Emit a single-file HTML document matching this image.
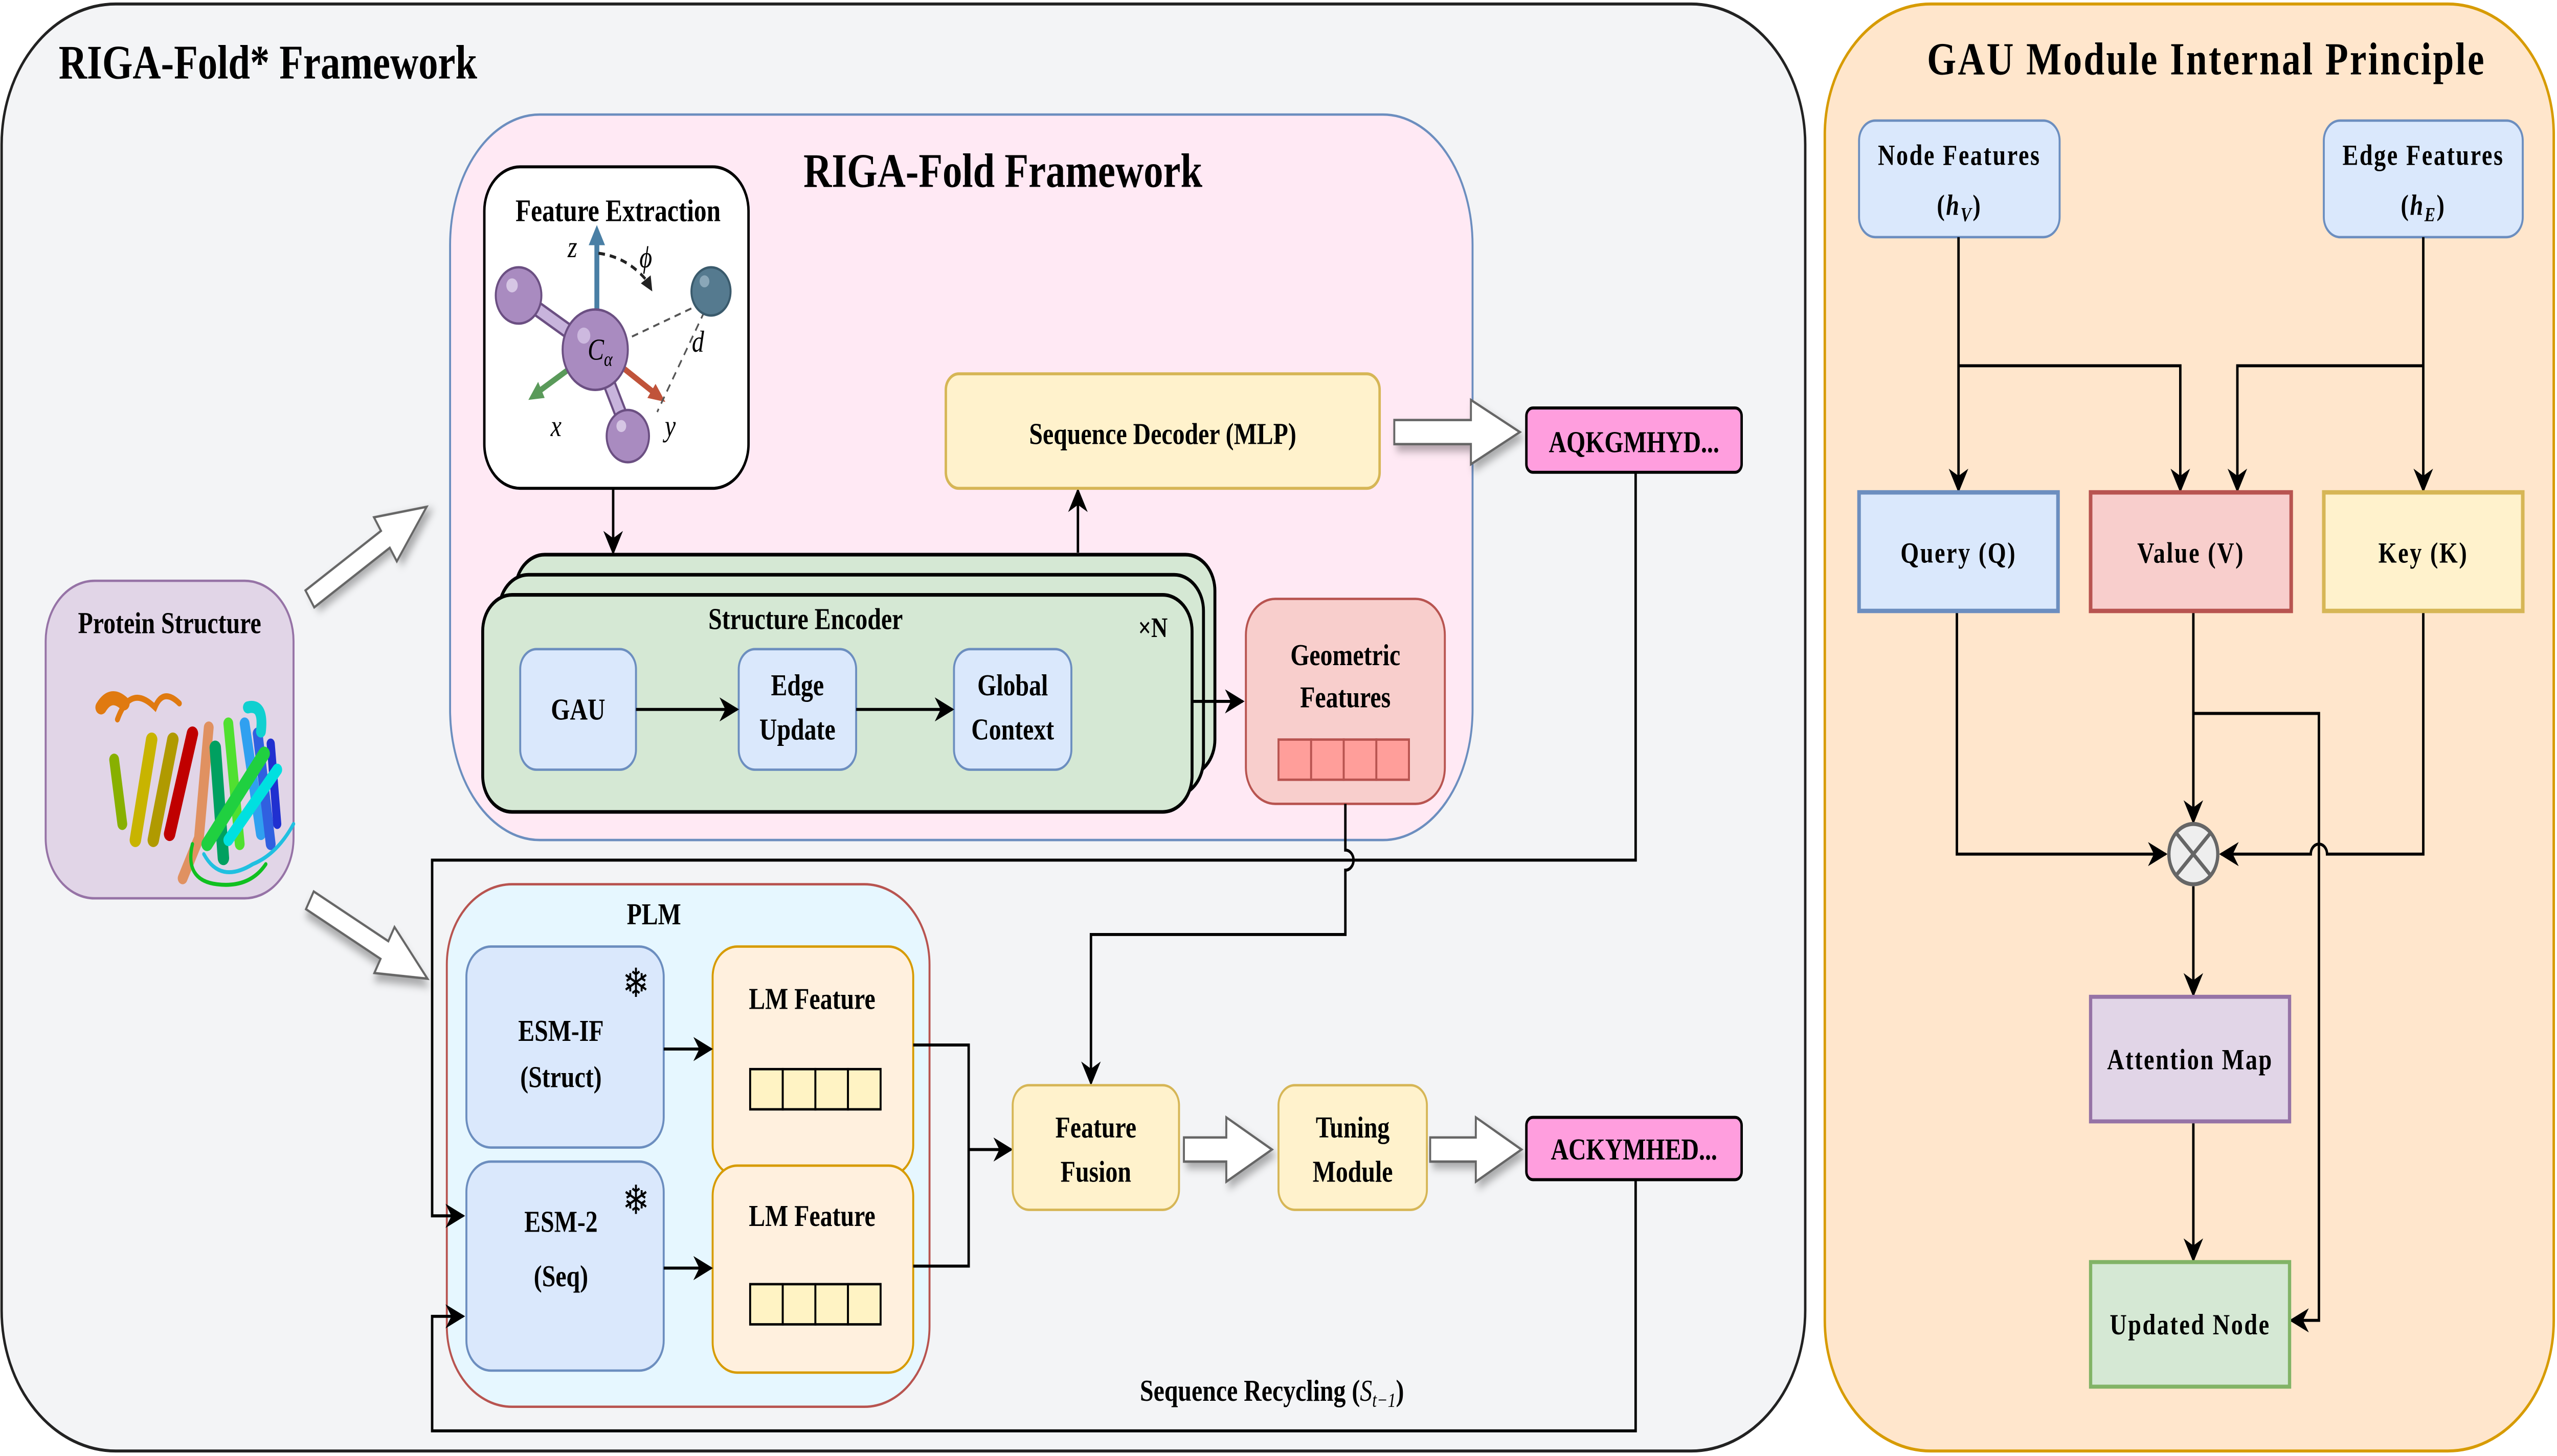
<!DOCTYPE html>
<html><head><meta charset="utf-8"><style>html,body{margin:0;padding:0;background:#fff;overflow:hidden;width:100%;height:100%}svg{display:block;width:100vw;height:100vh}</style></head><body>
<svg xmlns="http://www.w3.org/2000/svg" viewBox="0 0 1568 724.5" preserveAspectRatio="none" font-family="'Liberation Serif', serif" font-weight="bold">
<defs>
<marker id="ah2" viewBox="0 0 10 10" refX="9" refY="5" markerWidth="12" markerHeight="12" orient="auto" markerUnits="userSpaceOnUse"><path d="M0,0 L10,5 L0,10 L3,5 z" fill="#000"/></marker>
<filter id="sh" x="-20%" y="-20%" width="140%" height="160%"><feDropShadow dx="2" dy="3" stdDeviation="2" flood-opacity="0.3"/></filter>
</defs>
<rect width="1568" height="724.5" fill="#fff"/>
<rect x="1" y="2" width="1106" height="720" rx="70" ry="70" fill="#f3f4f6" stroke="#222" stroke-width="1.5"/>
<text x="36" y="39" font-size="24">RIGA-Fold* Framework</text>
<rect x="1119" y="2" width="447" height="720" rx="65" ry="65" fill="#ffe6cc" stroke="#d79b00" stroke-width="1.5"/>
<text x="1353" y="37" font-size="23" text-anchor="middle" letter-spacing="1">GAU Module Internal Principle</text>

<rect x="276" y="57" width="627" height="361" rx="55" ry="65" fill="#ffe9f4" stroke="#6c8ebf" stroke-width="1.2"/>
<text x="615" y="93" font-size="24" text-anchor="middle">RIGA-Fold Framework</text>

<rect x="297" y="83" width="162" height="160" rx="22" fill="#fff" stroke="#000" stroke-width="1.5"/>
<text x="379" y="110" font-size="15.5" text-anchor="middle">Feature Extraction</text>
<line x1="318" y1="147" x2="366" y2="175" stroke="#6b4f82" stroke-width="8"/>
<line x1="318" y1="147" x2="366" y2="175" stroke="#c8b4dc" stroke-width="5.5"/>
<line x1="366" y1="175" x2="385" y2="215" stroke="#6b4f82" stroke-width="8"/>
<line x1="366" y1="175" x2="385" y2="215" stroke="#c8b4dc" stroke-width="5.5"/>
<line x1="366" y1="160" x2="366" y2="120" stroke="#4a7fa5" stroke-width="3"/>
<path d="M366,112 L361,122 L371,122 z" fill="#4a7fa5"/>
<line x1="350" y1="183" x2="330" y2="195" stroke="#5a9a5a" stroke-width="3"/>
<path d="M324,199 L330,190 L334,198 z" fill="#5a9a5a"/>
<line x1="382" y1="183" x2="402" y2="196" stroke="#c0533a" stroke-width="3"/>
<path d="M408,200 L397,198 L402,191 z" fill="#c0533a"/>
<path d="M367,126 Q385,128 397,140" fill="none" stroke="#222" stroke-width="1.5" stroke-dasharray="4,3"/>
<path d="M400,145 L393,141 L399,137 z" fill="#222"/>
<line x1="381" y1="170" x2="433" y2="150" stroke="#555" stroke-width="1" stroke-dasharray="4,3"/>
<line x1="432" y1="155" x2="403" y2="205" stroke="#555" stroke-width="1" stroke-dasharray="4,3"/>
<circle cx="318" cy="147" r="14" fill="#a98bc0" stroke="#6b4f82" stroke-width="1.2"/>
<circle cx="314" cy="142" r="3.5" fill="#d6c6e4"/>
<circle cx="365" cy="174" r="20" fill="#a98bc0" stroke="#6b4f82" stroke-width="1.2"/>
<circle cx="358" cy="167" r="4" fill="#cdb9df"/>
<circle cx="385" cy="217" r="13" fill="#a98bc0" stroke="#6b4f82" stroke-width="1.2"/>
<circle cx="381" cy="212" r="3" fill="#d6c6e4"/>
<circle cx="436" cy="145" r="12" fill="#557a8f" stroke="#3a5a6c" stroke-width="1.2"/>
<circle cx="432" cy="140" r="3" fill="#8aa7b8"/>
<text x="368" y="179" font-size="15" font-style="italic" font-weight="normal" text-anchor="middle">C<tspan font-size="10" dy="3">α</tspan></text>
<text x="351" y="128" font-size="15" font-style="italic" font-weight="normal" text-anchor="middle">z</text>
<text x="396" y="133" font-size="15" font-style="italic" font-weight="normal" text-anchor="middle">ϕ</text>
<text x="428" y="175" font-size="15" font-style="italic" font-weight="normal" text-anchor="middle">d</text>
<text x="341" y="217" font-size="15" font-style="italic" font-weight="normal" text-anchor="middle">x</text>
<text x="411" y="217" font-size="15" font-style="italic" font-weight="normal" text-anchor="middle">y</text>

<line x1="376" y1="243" x2="376" y2="275" stroke="#000" stroke-width="1.5" marker-end="url(#ah2)"/>

<rect x="316" y="276" width="429" height="110" rx="18" fill="#d5e8d4" stroke="#000" stroke-width="1.8"/>
<rect x="306" y="286" width="432" height="110" rx="18" fill="#d5e8d4" stroke="#000" stroke-width="1.8"/>
<rect x="296" y="296" width="435" height="108" rx="18" fill="#d5e8d4" stroke="#000" stroke-width="1.8"/>
<text x="494" y="313" font-size="15" text-anchor="middle">Structure Encoder</text>
<text x="707" y="317" font-size="14" text-anchor="middle">×N</text>
<rect x="319" y="323" width="71" height="60" rx="10" fill="#dae8fc" stroke="#6c8ebf" stroke-width="1.2"/>
<text x="354.5" y="358" font-size="15" text-anchor="middle">GAU</text>
<rect x="453" y="323" width="72" height="60" rx="10" fill="#dae8fc" stroke="#6c8ebf" stroke-width="1.2"/>
<text x="489" y="346" font-size="15" text-anchor="middle">Edge</text>
<text x="489" y="368" font-size="15" text-anchor="middle">Update</text>
<rect x="585" y="323" width="72" height="60" rx="10" fill="#dae8fc" stroke="#6c8ebf" stroke-width="1.2"/>
<text x="621" y="346" font-size="15" text-anchor="middle">Global</text>
<text x="621" y="368" font-size="15" text-anchor="middle">Context</text>
<line x1="390" y1="353" x2="452" y2="353" stroke="#000" stroke-width="1.5" marker-end="url(#ah2)"/>
<line x1="525" y1="353" x2="584" y2="353" stroke="#000" stroke-width="1.5" marker-end="url(#ah2)"/>
<line x1="731" y1="349" x2="762" y2="349" stroke="#000" stroke-width="1.5" marker-end="url(#ah2)"/>

<rect x="764" y="298" width="122" height="102" rx="18" fill="#f8cecc" stroke="#b85450" stroke-width="1.2"/>
<text x="825" y="331" font-size="15" text-anchor="middle">Geometric</text>
<text x="825" y="352" font-size="15" text-anchor="middle">Features</text>
<g fill="#ff9e9a" stroke="#b85450" stroke-width="1.2">
<rect x="784" y="368" width="20" height="20"/><rect x="804" y="368" width="20" height="20"/><rect x="824" y="368" width="20" height="20"/><rect x="844" y="368" width="20" height="20"/></g>

<line x1="661" y1="275" x2="661" y2="244" stroke="#000" stroke-width="1.5" marker-end="url(#ah2)"/>
<rect x="580" y="186" width="266" height="57" rx="8" fill="#fff2cc" stroke="#d6b656" stroke-width="1.5"/>
<text x="713" y="221" font-size="15" text-anchor="middle">Sequence Decoder (MLP)</text>
<polygon points="855,209 902,209 902,199 932,215 902,231 902,221 855,221" fill="#fff" stroke="#666" stroke-width="1.2" filter="url(#sh)"/>
<rect x="936" y="203" width="132" height="32" rx="4" fill="#ff9ede" stroke="#000" stroke-width="1.5"/>
<text x="1002" y="225" font-size="15" text-anchor="middle">AQKGMHYD...</text>

<rect x="28" y="289" width="152" height="158" rx="30" fill="#e1d5e7" stroke="#9673a6" stroke-width="1.2"/>
<text x="104" y="315" font-size="15" text-anchor="middle">Protein Structure</text>
<g fill="none" stroke-linecap="round">
<path d="M72,358 Q80,340 95,352 Q100,342 110,350" stroke="#e07a10" stroke-width="3"/>
<path d="M62,352 q6,-8 14,-2" stroke="#e07a10" stroke-width="7"/>
<path d="M70,378 l5,32" stroke="#88b000" stroke-width="6"/>
<path d="M93,368 l-10,50" stroke="#c8b400" stroke-width="7"/>
<path d="M106,368 l-12,50" stroke="#b09a00" stroke-width="7"/>
<path d="M118,365 l-14,50" stroke="#c00000" stroke-width="7"/>
<path d="M128,362 l-6,55 l-10,20" stroke="#e08040" stroke-width="6" opacity="0.8"/>
<path d="M132,372 l5,55" stroke="#00a060" stroke-width="7"/>
<path d="M140,360 l7,60" stroke="#50e030" stroke-width="6"/>
<path d="M150,360 l10,55" stroke="#30a0f0" stroke-width="6"/>
<path d="M158,365 l8,55" stroke="#3060e0" stroke-width="6"/>
<path d="M166,370 l4,40" stroke="#2030d0" stroke-width="5"/>
<path d="M127,420 l35,-45" stroke="#20d040" stroke-width="7"/>
<path d="M140,418 l30,-35" stroke="#00e0e0" stroke-width="6"/>
<path d="M125,425 q10,15 30,5 q15,-5 25,-20" stroke="#20c0e0" stroke-width="2"/>
<path d="M118,420 q-5,18 15,20 q20,2 30,-10" stroke="#10c020" stroke-width="2"/>
<path d="M152,352 q10,-2 8,12" stroke="#10d0d0" stroke-width="6"/>
</g>

<polygon points="0,-5 55,-5 55,-13 85,0 55,13 55,5 0,5" fill="#fff" stroke="#666" stroke-width="1.2" filter="url(#sh)" transform="translate(190,298) rotate(-32.6)"/>
<polygon points="0,-5 52,-5 52,-13 82,0 52,13 52,5 0,5" fill="#fff" stroke="#666" stroke-width="1.2" filter="url(#sh)" transform="translate(190,448) rotate(28.4)"/>

<rect x="274" y="440" width="296" height="260" rx="40" fill="#e6f7ff" stroke="#b85450" stroke-width="1.2"/>
<text x="401" y="460" font-size="15" text-anchor="middle">PLM</text>
<rect x="286" y="471" width="121" height="100" rx="15" fill="#dae8fc" stroke="#6c8ebf" stroke-width="1.2"/>
<text x="344" y="518" font-size="15" text-anchor="middle">ESM-IF</text>
<text x="344" y="541" font-size="15" text-anchor="middle">(Struct)</text>
<text x="390" y="496" font-size="20" font-weight="normal" text-anchor="middle" font-family="'DejaVu Sans', sans-serif">❄</text>
<rect x="286" y="578" width="121" height="104" rx="15" fill="#dae8fc" stroke="#6c8ebf" stroke-width="1.2"/>
<text x="344" y="613" font-size="15" text-anchor="middle">ESM-2</text>
<text x="344" y="640" font-size="15" text-anchor="middle">(Seq)</text>
<text x="390" y="604" font-size="20" font-weight="normal" text-anchor="middle" font-family="'DejaVu Sans', sans-serif">❄</text>
<rect x="437" y="471" width="123" height="114" rx="15" fill="#fff0de" stroke="#d79b00" stroke-width="1.2"/>
<text x="498" y="502" font-size="15" text-anchor="middle">LM Feature</text>
<g fill="#fff3c4" stroke="#000" stroke-width="1.2"><rect x="460" y="532" width="20" height="20"/><rect x="480" y="532" width="20" height="20"/><rect x="500" y="532" width="20" height="20"/><rect x="520" y="532" width="20" height="20"/></g>
<rect x="437" y="580" width="123" height="103" rx="15" fill="#fff0de" stroke="#d79b00" stroke-width="1.2"/>
<text x="498" y="610" font-size="15" text-anchor="middle">LM Feature</text>
<g fill="#fff3c4" stroke="#000" stroke-width="1.2"><rect x="460" y="639" width="20" height="20"/><rect x="480" y="639" width="20" height="20"/><rect x="500" y="639" width="20" height="20"/><rect x="520" y="639" width="20" height="20"/></g>
<line x1="407" y1="522" x2="436" y2="522" stroke="#000" stroke-width="1.5" marker-end="url(#ah2)"/>
<line x1="407" y1="631" x2="436" y2="631" stroke="#000" stroke-width="1.5" marker-end="url(#ah2)"/>
<polyline points="560,520 594,520 594,630 560,630" fill="none" stroke="#000" stroke-width="1.5"/>
<line x1="594" y1="572" x2="620" y2="572" stroke="#000" stroke-width="1.5" marker-end="url(#ah2)"/>

<polyline points="1003,235 1003,428 265,428 265,605 284,605" fill="none" stroke="#000" stroke-width="1.5" marker-end="url(#ah2)"/>
<polyline points="1003,587 1003,712 265,712 265,655 284,655" fill="none" stroke="#000" stroke-width="1.5" marker-end="url(#ah2)"/>
<path d="M825,400 L825,423 A5,5 0 0 1 825,433 L825,465 L669,465 L669,539" fill="none" stroke="#000" stroke-width="1.5" marker-end="url(#ah2)"/>

<rect x="621" y="540" width="102" height="62" rx="10" fill="#fff2cc" stroke="#d6b656" stroke-width="1.2"/>
<text x="672" y="566" font-size="15" text-anchor="middle">Feature</text>
<text x="672" y="588" font-size="15" text-anchor="middle">Fusion</text>
<polygon points="726,566 752,566 752,556 780,572 752,588 752,578 726,578" fill="#fff" stroke="#666" stroke-width="1.2" filter="url(#sh)"/>
<rect x="784" y="540" width="91" height="62" rx="10" fill="#fff2cc" stroke="#d6b656" stroke-width="1.2"/>
<text x="829.5" y="566" font-size="15" text-anchor="middle">Tuning</text>
<text x="829.5" y="588" font-size="15" text-anchor="middle">Module</text>
<polygon points="877,566 905,566 905,556 933,572 905,588 905,578 877,578" fill="#fff" stroke="#666" stroke-width="1.2" filter="url(#sh)"/>
<rect x="936" y="556" width="132" height="31" rx="4" fill="#ff9ede" stroke="#000" stroke-width="1.5"/>
<text x="1002" y="577" font-size="15" text-anchor="middle">ACKYMHED...</text>
<text x="780" y="697" font-size="15" text-anchor="middle">Sequence Recycling (<tspan font-style="italic" font-weight="normal">S</tspan><tspan font-size="10" dy="3" font-style="italic" font-weight="normal">t−1</tspan><tspan dy="-3">)</tspan></text>

<g font-size="14.5" letter-spacing="0.8">
<rect x="1140" y="60" width="123" height="58" rx="10" fill="#dae8fc" stroke="#6c8ebf" stroke-width="1.2"/>
<text x="1201.5" y="82" text-anchor="middle">Node Features</text>
<text x="1201.5" y="107" text-anchor="middle">(<tspan font-style="italic">h</tspan><tspan font-size="10" dy="3" font-style="italic">V</tspan><tspan dy="-3">)</tspan></text>
<rect x="1425" y="60" width="122" height="58" rx="10" fill="#dae8fc" stroke="#6c8ebf" stroke-width="1.2"/>
<text x="1486" y="82" text-anchor="middle">Edge Features</text>
<text x="1486" y="107" text-anchor="middle">(<tspan font-style="italic">h</tspan><tspan font-size="10" dy="3" font-style="italic">E</tspan><tspan dy="-3">)</tspan></text>

<g fill="none" stroke="#000" stroke-width="1.5">
<line x1="1201" y1="118" x2="1201" y2="244" marker-end="url(#ah2)"/>
<polyline points="1201,182 1337,182 1337,244" marker-end="url(#ah2)"/>
<line x1="1486" y1="118" x2="1486" y2="244" marker-end="url(#ah2)"/>
<polyline points="1486,182 1372,182 1372,244" marker-end="url(#ah2)"/>
<polyline points="1200,304 1200,425 1328,425" marker-end="url(#ah2)"/>
<line x1="1345" y1="304" x2="1345" y2="409" marker-end="url(#ah2)"/>
<polyline points="1345,355 1422,355 1422,657 1405,657" marker-end="url(#ah2)"/>
<path d="M1486,304 L1486,425 L1427,425 A5,5 0 0 0 1417,425 L1362,425" marker-end="url(#ah2)"/>
<line x1="1345" y1="441" x2="1345" y2="495" marker-end="url(#ah2)"/>
<line x1="1345" y1="558" x2="1345" y2="627" marker-end="url(#ah2)"/>
</g>
<rect x="1140" y="245" width="122" height="59" fill="#dae8fc" stroke="#6c8ebf" stroke-width="2.2"/>
<text x="1201" y="280" text-anchor="middle">Query (Q)</text>
<rect x="1282" y="245" width="123" height="59" fill="#f8cecc" stroke="#b85450" stroke-width="2.2"/>
<text x="1343.5" y="280" text-anchor="middle">Value (V)</text>
<rect x="1425" y="245" width="122" height="59" fill="#fff2cc" stroke="#d6b656" stroke-width="2.2"/>
<text x="1486" y="280" text-anchor="middle">Key (K)</text>
<ellipse cx="1345" cy="425" rx="15" ry="15" fill="#eee" stroke="#666" stroke-width="2"/>
<line x1="1335" y1="415" x2="1355" y2="435" stroke="#666" stroke-width="2"/>
<line x1="1355" y1="415" x2="1335" y2="435" stroke="#666" stroke-width="2"/>
<rect x="1282" y="496" width="122" height="62" fill="#e1d5e7" stroke="#9673a6" stroke-width="2"/>
<text x="1343" y="532" text-anchor="middle">Attention Map</text>
<rect x="1282" y="628" width="122" height="62" fill="#d5e8d4" stroke="#82b366" stroke-width="2"/>
<text x="1343" y="664" text-anchor="middle">Updated Node</text>
</g>
</svg>
</body></html>
